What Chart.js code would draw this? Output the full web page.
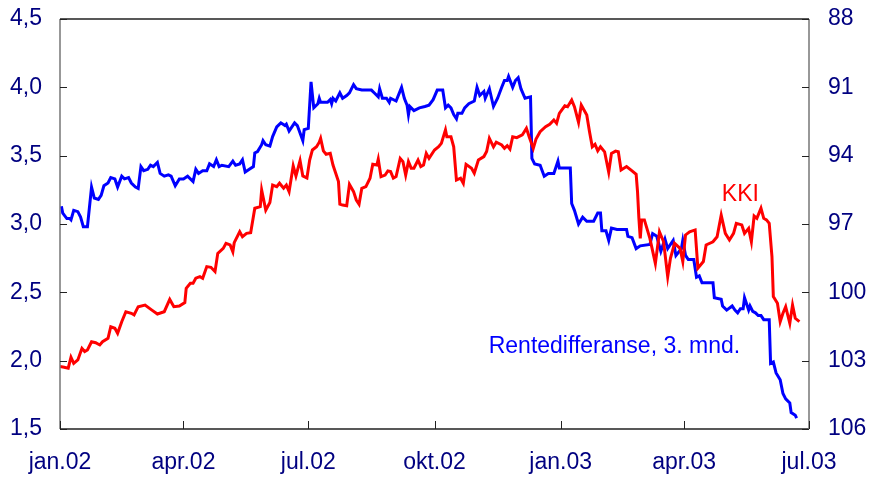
<!DOCTYPE html>
<html>
<head>
<meta charset="utf-8">
<script src="https://cdn.jsdelivr.net/npm/chart.js@4.4.1/dist/chart.umd.min.js"></script>
<style>
    html, body { margin: 0; padding: 0; background: #fff; }
    #wrap { width: 870px; height: 478px; position: relative; }
</style>
</head>
<body>
<div id="wrap"><canvas id="chart"></canvas></div>
<script>
// x values are days after 1 Jan 2002
const tickDays = [0, 90, 181, 273, 365, 455, 546];
const tickLabels = ["jan.02", "apr.02", "jul.02", "okt.02", "jan.03", "apr.03", "jul.03"];
const leftTicks = [1.5, 2.0, 2.5, 3.0, 3.5, 4.0, 4.5];
const rightTicks = [88, 91, 94, 97, 100, 103, 106];

// Rentedifferanse, 3. mnd. (left axis)
const renteDays = [1, 2, 5, 7, 8, 10, 13, 15, 17, 20, 23, 25, 28, 30, 32, 35, 37, 40, 42, 45,
    47, 50, 52, 55, 57, 59, 61, 64, 66, 68, 71, 73, 76, 79, 81, 84, 87, 90, 93, 97,
    99, 101, 104, 107, 109, 112, 114, 116, 118, 123, 126, 128, 131, 133, 135, 138, 141, 142, 144, 147,
    148, 150, 153, 155, 158, 161, 164, 165, 167, 171, 173, 177, 178, 181, 183, 185, 188, 189, 190, 195,
    197, 198, 199, 201, 204, 206, 209, 211, 214, 216, 220, 227, 229, 232, 233, 235, 238, 240, 241, 245,
    249, 251, 253, 254, 255, 258, 262, 266, 269, 272, 275, 279, 281, 283, 285, 287, 289, 290, 293, 295,
    298, 302, 304, 306, 309, 310, 313, 316, 319, 322, 324, 326, 327, 330, 332, 334, 336, 339, 343, 344,
    346, 350, 353, 356, 360, 363, 364, 372, 373, 375, 378, 381, 384, 389, 392, 394, 395, 398, 400, 402,
    406, 413, 414, 417, 420, 423, 430, 432, 435, 438, 441, 443, 447, 449, 453, 454, 456, 458, 462, 464,
    466, 468, 476, 477, 482, 483, 486, 490, 492, 494, 496, 498, 499, 502, 503, 505, 507, 509, 511, 513,
    517, 518, 520, 522, 525, 527, 529, 532, 533, 536, 537];
const renteValues = [3.13, 3.08, 3.04, 3.04, 3.03, 3.10, 3.09, 3.05, 2.98, 2.98, 3.27, 3.19, 3.18, 3.21, 3.28, 3.30, 3.34, 3.33, 3.27, 3.35,
    3.33, 3.34, 3.30, 3.27, 3.26, 3.42, 3.39, 3.40, 3.43, 3.42, 3.45, 3.37, 3.35, 3.36, 3.35, 3.28, 3.33, 3.33, 3.35, 3.31,
    3.40, 3.37, 3.39, 3.39, 3.44, 3.42, 3.47, 3.42, 3.43, 3.42, 3.46, 3.43, 3.44, 3.47, 3.38, 3.40, 3.42, 3.52, 3.53, 3.58,
    3.61, 3.58, 3.57, 3.64, 3.71, 3.74, 3.72, 3.73, 3.68, 3.74, 3.72, 3.61, 3.69, 3.70, 4.04, 3.85, 3.88, 3.92, 3.89, 3.89,
    3.91, 3.88, 3.92, 3.90, 3.96, 3.92, 3.94, 3.96, 4.02, 3.99, 3.98, 3.98, 3.96, 3.93, 3.99, 3.92, 3.92, 3.89, 3.92, 3.90,
    4.00, 3.92, 3.87, 3.80, 3.86, 3.83, 3.85, 3.86, 3.87, 3.91, 3.98, 3.98, 3.85, 3.87, 3.85, 3.80, 3.77, 3.81, 3.81, 3.85,
    3.88, 3.90, 4.00, 3.94, 3.97, 3.92, 3.99, 3.86, 3.92, 4.00, 4.05, 4.05, 4.08, 4.00, 4.05, 4.07, 3.99, 3.92, 3.93, 3.48,
    3.44, 3.43, 3.35, 3.37, 3.37, 3.46, 3.41, 3.41, 3.15, 3.10, 3.00, 3.05, 3.02, 3.02, 3.08, 3.08, 2.95, 2.95, 2.88, 2.97,
    2.96, 2.96, 2.91, 2.90, 2.82, 2.84, 2.85, 2.93, 2.91, 2.80, 2.89, 2.82, 2.88, 2.77, 2.82, 2.88, 2.77, 2.74, 2.74, 2.61,
    2.62, 2.57, 2.57, 2.46, 2.45, 2.40, 2.37, 2.40, 2.37, 2.35, 2.38, 2.38, 2.46, 2.37, 2.40, 2.36, 2.35, 2.33, 2.33, 2.30,
    2.30, 1.98, 1.99, 1.91, 1.86, 1.76, 1.72, 1.69, 1.62, 1.60, 1.58];

// KKI (right axis, inverted)
const kkiDays = [0, 3, 6, 8, 10, 13, 16, 18, 20, 23, 26, 29, 31, 35, 37, 40, 42, 45, 48, 52,
    54, 57, 62, 67, 71, 76, 80, 83, 87, 91, 92, 95, 97, 99, 102, 104, 107, 110, 113, 115,
    119, 121, 124, 126, 127, 131, 133, 136, 139, 142, 146, 147, 150, 153, 155, 158, 160, 163, 165, 167,
    170, 172, 175, 177, 180, 182, 184, 187, 189, 190, 192, 194, 197, 199, 201, 203, 204, 206, 209, 211,
    214, 216, 218, 220, 223, 226, 228, 231, 232, 234, 237, 239, 241, 243, 245, 248, 250, 252, 254, 256,
    258, 261, 263, 265, 267, 269, 273, 276, 278, 281, 282, 285, 287, 289, 292, 294, 296, 300, 302, 305,
    309, 311, 313, 316, 318, 322, 324, 326, 328, 330, 333, 337, 340, 342, 345, 347, 350, 354, 357, 360,
    362, 364, 368, 370, 373, 375, 378, 380, 384, 386, 388, 390, 392, 394, 397, 400, 402, 405, 407, 409,
    413, 417, 420, 421, 422, 423, 424, 426, 430, 434, 437, 440, 443, 445, 448, 452, 454, 456, 459, 463,
    465, 469, 471, 476, 479, 482, 485, 488, 491, 493, 497, 499, 502, 504, 506, 508, 510, 511, 513, 515,
    517, 519, 520, 523, 525, 527, 529, 532, 534, 536, 539];
const kkiValues = [103.26, 103.29, 103.33, 102.85, 103.12, 102.97, 102.46, 102.60, 102.53, 102.17, 102.21, 102.31, 102.17, 102.02, 101.51, 101.58, 101.80, 101.29, 100.85, 100.92,
    100.99, 100.63, 100.56, 100.78, 100.95, 100.85, 100.31, 100.63, 100.60, 100.45, 99.82, 99.60, 99.60, 99.38, 99.31, 99.38, 98.87, 98.90, 99.09, 98.29,
    98.07, 97.85, 97.92, 98.22, 97.82, 97.34, 97.56, 97.41, 97.38, 96.31, 96.24, 95.51, 96.39, 96.06, 95.29, 95.36, 95.21, 95.43, 95.29, 95.58,
    94.45, 94.89, 94.22, 94.89, 94.98, 94.19, 93.75, 93.61, 93.41, 93.24, 93.79, 93.94, 93.90, 94.41, 94.77, 95.14, 96.13, 96.17, 96.20, 95.26,
    95.58, 95.95, 96.13, 95.43, 95.36, 94.99, 94.38, 94.41, 94.15, 94.92, 94.85, 94.67, 94.70, 94.99, 94.92, 94.12, 94.26, 94.85, 94.26, 94.55,
    94.55, 94.19, 94.48, 94.41, 93.90, 94.12, 93.75, 93.61, 93.46, 92.87, 93.17, 93.17, 93.61, 95.07, 94.99, 95.21, 94.38, 94.55, 94.77, 94.19,
    94.04, 93.82, 93.24, 93.61, 93.41, 93.53, 93.68, 93.56, 93.71, 93.17, 93.21, 93.09, 92.80, 93.17, 93.68, 93.27, 92.95, 92.73, 92.62, 92.43,
    92.58, 92.14, 91.81, 91.85, 91.56, 91.85, 92.54, 91.78, 92.21, 92.95, 93.61, 93.50, 93.79, 93.61, 93.83, 94.73, 93.90, 93.80, 93.83, 94.63,
    94.48, 94.67, 94.82, 95.58, 96.75, 97.63, 96.82, 96.82, 97.63, 98.73, 97.34, 97.78, 99.31, 98.51, 97.85, 98.07, 98.65, 97.48, 97.34, 97.26,
    98.94, 98.65, 97.92, 97.78, 97.56, 96.61, 97.41, 97.70, 97.41, 96.97, 97.04, 97.41, 97.19, 97.78, 96.65, 96.75, 96.46, 96.31, 96.75, 96.82,
    96.97, 98.43, 100.19, 100.48, 101.29, 100.92, 100.63, 101.36, 100.56, 101.14, 101.29];

const tickColor = "#000080";
const font = { family: "'Liberation Sans', Arial, sans-serif", size: 23 };

function points(days, values) {
    return days.map((d, i) => ({ x: d, y: values[i] }));
}

function fixBox(w, h) {
    return s => {
        if (w) s.width = w;
        if (h) s.height = h;
        s.paddingTop = 0; s.paddingBottom = 0;
        s.paddingLeft = 0; s.paddingRight = 0;
    };
}

// frame, inward tick marks and the two series labels
const framePlugin = {
    id: "frame",
    afterDraw(chart) {
        const ctx = chart.ctx;
        const a = chart.chartArea;
        const x = chart.scales.x, yl = chart.scales.yLeft, yr = chart.scales.yRight;
        ctx.save();
        ctx.lineWidth = 1.5;
        ctx.strokeStyle = "#222";
        ctx.beginPath();
        ctx.moveTo(a.left, a.top); ctx.lineTo(a.right, a.top);
        ctx.moveTo(a.left, a.bottom); ctx.lineTo(a.right, a.bottom);
        ctx.stroke();
        ctx.strokeStyle = "#777";
        ctx.beginPath();
        ctx.moveTo(a.left, a.top); ctx.lineTo(a.left, a.bottom);
        ctx.moveTo(a.right, a.top); ctx.lineTo(a.right, a.bottom);
        ctx.stroke();
        ctx.strokeStyle = "#222";
        ctx.lineWidth = 1;
        ctx.beginPath();
        leftTicks.forEach(v => {
            const py = Math.round(yl.getPixelForValue(v)) + 0.5;
            ctx.moveTo(a.left, py); ctx.lineTo(a.left + 7, py);
        });
        rightTicks.forEach(v => {
            const py = Math.round(yr.getPixelForValue(v)) + 0.5;
            ctx.moveTo(a.right, py); ctx.lineTo(a.right - 7, py);
        });
        tickDays.forEach(d => {
            const px = Math.round(x.getPixelForValue(d)) + 0.5;
            ctx.moveTo(px, a.bottom); ctx.lineTo(px, a.bottom - 8);
        });
        ctx.stroke();

        ctx.font = font.size + "px " + font.family;
        ctx.textBaseline = "middle";
        ctx.fillStyle = "#ff0000";
        ctx.textAlign = "center";
        ctx.fillText("KKI", x.getPixelForValue(496), yr.getPixelForValue(95.73));
        ctx.fillStyle = "#0000ff";
        ctx.textAlign = "left";
        ctx.fillText("Rentedifferanse, 3. mnd.", x.getPixelForValue(312.5), yl.getPixelForValue(2.10));
        ctx.restore();
    }
};

new Chart(document.getElementById("chart"), {
    type: "line",
    data: {
        datasets: [
            {
                label: "Rentedifferanse, 3. mnd.",
                data: points(renteDays, renteValues),
                yAxisID: "yLeft",
                borderColor: "#0000ff",
                borderWidth: 3,
                pointRadius: 0,
                tension: 0,
                order: 2
            },
            {
                label: "KKI",
                data: points(kkiDays, kkiValues),
                yAxisID: "yRight",
                borderColor: "#ff0000",
                borderWidth: 3,
                pointRadius: 0,
                tension: 0,
                order: 1
            }
        ]
    },
    options: {
        responsive: true,
        maintainAspectRatio: false,
        animation: false,
        layout: { padding: { top: 19, left: 0, right: 0, bottom: 0 } },
        plugins: { legend: { display: false }, tooltip: { enabled: false } },
        scales: {
            x: {
                type: "linear",
                min: 0,
                max: 546,
                afterBuildTicks: s => { s.ticks = tickDays.map(v => ({ value: v })); },
                afterFit: fixBox(0, 49),
                grid: { display: false, drawTicks: false },
                border: { display: false },
                ticks: {
                    color: tickColor,
                    font: font,
                    padding: 20,
                    maxRotation: 0,
                    autoSkip: false,
                    callback: v => tickLabels[tickDays.indexOf(v)]
                }
            },
            yLeft: {
                position: "left",
                min: 1.5,
                max: 4.5,
                afterBuildTicks: s => { s.ticks = leftTicks.map(v => ({ value: v })); },
                afterFit: fixBox(60, 0),
                grid: { display: false, drawTicks: false },
                border: { display: false },
                ticks: {
                    color: tickColor,
                    font: font,
                    padding: 18,
                    callback: v => v.toFixed(1).replace(".", ",")
                }
            },
            yRight: {
                position: "right",
                reverse: true,
                min: 88,
                max: 106,
                afterBuildTicks: s => { s.ticks = rightTicks.map(v => ({ value: v })); },
                afterFit: fixBox(61, 0),
                grid: { display: false, drawTicks: false },
                border: { display: false },
                ticks: {
                    color: tickColor,
                    font: font,
                    padding: 19
                }
            }
        }
    },
    plugins: [framePlugin]
});
</script>
</body>
</html>
